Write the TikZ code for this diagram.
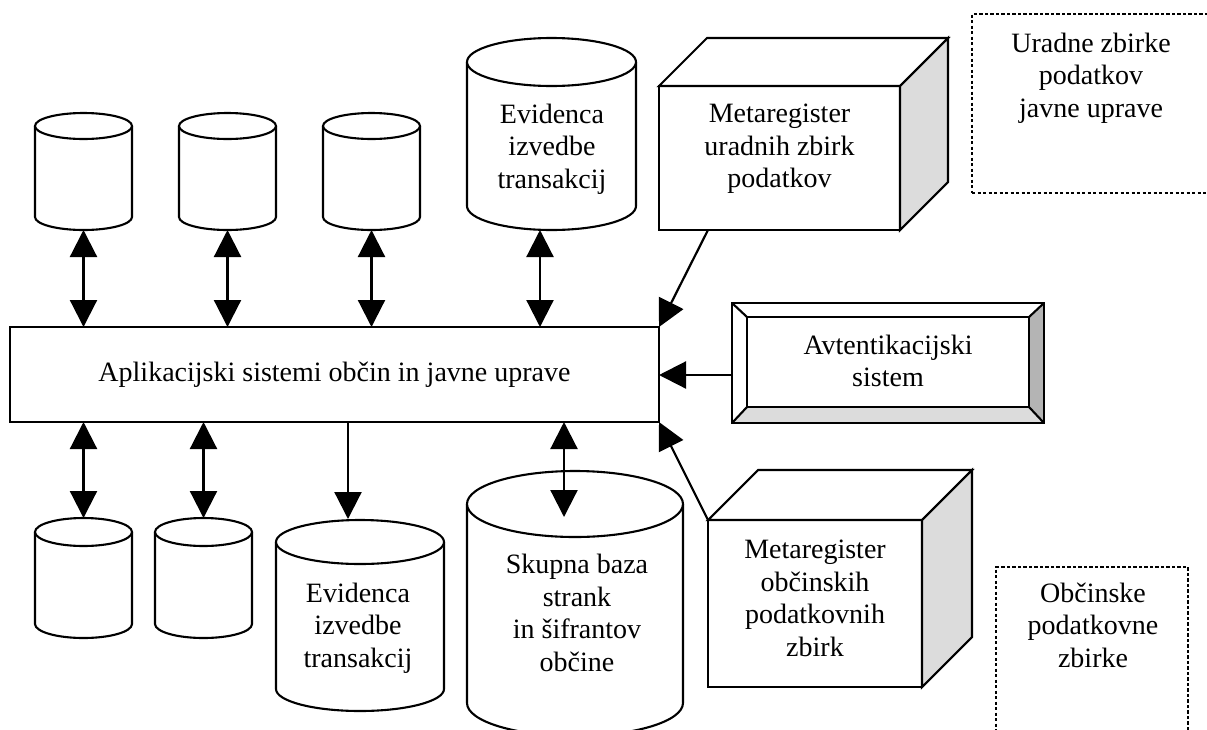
\documentclass[tikz,border=0pt]{standalone}
\usepackage{fontspec}
\setmainfont{Liberation Serif}
\usetikzlibrary{arrows.meta}
\definecolor{sidegray}{HTML}{DCDCDC}
\definecolor{bevelgray}{HTML}{B4B4B4}

\tikzset{
  outline/.style={line width=2.1pt, line join=miter},
  box/.style={outline, draw, fill=white, inner sep=0pt, outer sep=0pt},
  dotbox/.style={draw, line width=2.4pt, dash pattern=on 3.4pt off 2.1pt, inner sep=0pt, outer sep=0pt},
  lbl/.style={font=\fontsize{28}{32.5}\selectfont, align=center, inner sep=0pt},
  head/.tip={Triangle[length=27pt,width=27pt]},
  link/.style={line width=2.2pt},
  both/.style={link, head-head},
  one/.style={link, -head}
}

% database cylinder: #1 name, #2 centre x, #3 y of the top rim, #4 y of the bottom rim,
% #5 x radius, #6 y radius of the rims
\newcommand\dbcyl[6]{%
  \path[outline, draw, fill=white] (#2-#5,#3) -- (#2-#5,#4)
    arc[start angle=180, end angle=360, x radius=#5pt, y radius=#6pt] -- (#2+#5,#3);
  \path[outline, draw, fill=white] (#2,#3) ellipse[x radius=#5pt, y radius=#6pt];
  \coordinate (#1-top) at (#2,#3-#6);
  \coordinate (#1-bot) at (#2,#4+#6);
}

\begin{document}
\begin{tikzpicture}[x=1pt,y=-1pt]
\useasboundingbox (0,0) rectangle (1207,729);

% central application block
\node[box, lbl, minimum width=649pt, minimum height=95pt, anchor=north west] (app) at (10,327)
  {Aplikacijski sistemi občin in javne uprave};

% databases above the block
\dbcyl{ct1}{83.5}{126}{217}{48.5}{13}
\dbcyl{ct2}{227.5}{126}{217}{48.5}{13}
\dbcyl{ct3}{371.5}{126}{217}{48.5}{13}
\dbcyl{ct4}{551.5}{62}{206}{84.5}{24}
\node[lbl] (evtop) at (552,149) {Evidenca\\izvedbe\\transakcij};
\coordinate (ct4-port) at (540,230);

% databases below the block
\dbcyl{cb1}{83.5}{532}{624}{48.5}{14}
\dbcyl{cb2}{203.5}{532}{624}{48.5}{14}
\dbcyl{cb3}{360}{542}{689}{84}{22}
\dbcyl{cb4}{575}{504}{703}{108}{33}
\node[lbl] (evbot) at (358,628) {Evidenca\\izvedbe\\transakcij};
\node[lbl] (skupna) at (577,613) {Skupna baza\\strank\\in šifrantov\\občine};
\coordinate (cb3-port) at (348,519);
\coordinate (cb4-port) at (564,517);

% upper meta-register block
\node[box, minimum width=241pt, minimum height=144pt, anchor=north west] (mz) at (659,86) {};
\path[outline, draw, fill=white] (mz.north west) -- ++(48,-48) -- ++(241,0) -- (mz.north east) -- cycle;
\path[outline, draw, fill=sidegray] (mz.north east) -- ++(48,-48) -- ++(0,144) -- (mz.south east) -- cycle;
\node[lbl] (mztext) at ([yshift=9pt]mz.center) {Metaregister\\uradnih zbirk\\podatkov};

% lower meta-register block
\node[box, minimum width=214pt, minimum height=167pt, anchor=north west] (mo) at (708,520) {};
\path[outline, draw, fill=white] (mo.north west) -- ++(50,-50) -- ++(214,0) -- (mo.north east) -- cycle;
\path[outline, draw, fill=sidegray] (mo.north east) -- ++(50,-50) -- ++(0,167) -- (mo.south east) -- cycle;
\node[lbl] (motext) at ([yshift=5pt]mo.center) {Metaregister\\občinskih\\podatkovnih\\zbirk};

% bevelled authentication block
\node[box, minimum width=312pt, minimum height=120pt, anchor=north west] (auth) at (732,303) {};
\coordinate (ai-nw) at ([shift={(15,14)}]auth.north west);
\coordinate (ai-ne) at ([shift={(-15,14)}]auth.north east);
\coordinate (ai-sw) at ([shift={(15,-16)}]auth.south west);
\coordinate (ai-se) at ([shift={(-15,-16)}]auth.south east);
\fill[sidegray] (auth.south west) -- (auth.south east) -- (ai-se) -- (ai-sw) -- cycle;
\fill[bevelgray] (auth.north east) -- (auth.south east) -- (ai-se) -- (ai-ne) -- cycle;
\draw[outline] (ai-nw) rectangle (ai-se);
\draw[outline] (auth.north west) -- (ai-nw) (auth.north east) -- (ai-ne)
               (auth.south west) -- (ai-sw) (auth.south east) -- (ai-se);
\draw[outline] (auth.north west) rectangle (auth.south east);
\node[lbl] (authtext) at ([yshift=2pt]auth.center) {Avtentikacijski\\sistem};

% dotted group frames
\node[dotbox, minimum width=243pt, minimum height=179pt, anchor=north west] (uz) at (972,14) {};
\node[lbl] (uztext) at (1091,78) {Uradne zbirke\\podatkov\\javne uprave};
\node[dotbox, minimum width=192pt, minimum height=180pt, anchor=north west] (oz) at (996,567) {};
\node[lbl] (oztext) at (1093,625) {Občinske\\podatkovne\\zbirke};

% connectors
\draw[both] (ct1-bot) -- (ct1-bot |- app.north);
\draw[both] (ct2-bot) -- (ct2-bot |- app.north);
\draw[both] (ct3-bot) -- (ct3-bot |- app.north);
\draw[both] (ct4-port) -- (ct4-port |- app.north);
\draw[both] (cb1-top) -- (cb1-top |- app.south);
\draw[both] (cb2-top) -- (cb2-top |- app.south);
\draw[one] (cb3-port |- app.south) -- (cb3-port);
\draw[both] (cb4-port |- app.south) -- (cb4-port);
\draw[one] ([xshift=49pt]mz.south west) -- (app.north east);
\draw[one] ([yshift=-12pt]auth.west) -- ([yshift=-12pt]auth.west -| app.east);
\draw[one] (mo.north west) -- (app.south east);
\end{tikzpicture}
\end{document}
